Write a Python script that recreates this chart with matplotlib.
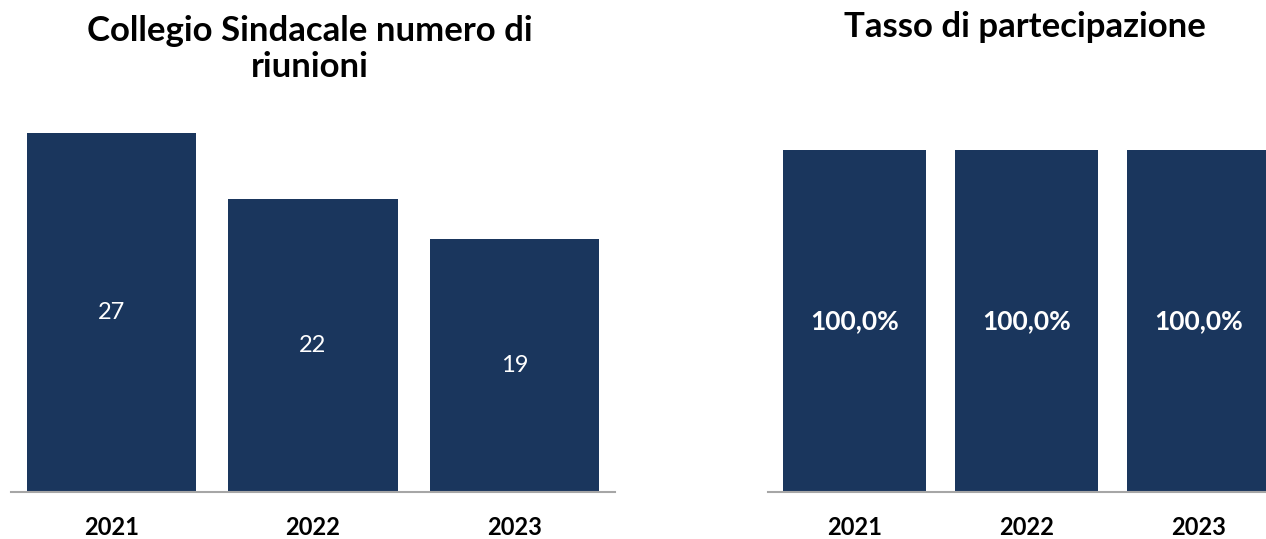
import matplotlib.pyplot as plt

years = ["2021", "2022", "2023"]
riunioni = [27, 22, 19]
partecipazione = [1.0, 1.0, 1.0]
part_labels = ["100,0%", "100,0%", "100,0%"]

bar_color = "#1a365d"
W, H = 1266, 539
plt.rcParams['font.family'] = ['Lato', 'DejaVu Sans']

fig = plt.figure(figsize=(W / 100, H / 100), dpi=100)


def px_axes(left, top, right, bottom):
    return fig.add_axes([left / W, 1 - bottom / H, (right - left) / W, (bottom - top) / H])


def style(ax):
    for s in ["top", "right", "left"]:
        ax.spines[s].set_visible(False)
    ax.spines["bottom"].set_color("#a6a6a6")
    ax.spines["bottom"].set_linewidth(1.5)
    ax.set_yticks([])
    ax.tick_params(axis="x", length=0, pad=24)
    for lab in ax.get_xticklabels():
        lab.set_fontweight("bold")
        lab.set_fontsize(17)
        lab.set_verticalalignment("center_baseline")


# left panel
ax1 = px_axes(11, 133, 615, 492)
x = range(len(years))
ax1.bar(x, riunioni, width=0.84, color=bar_color)
ax1.set_xlim(-0.5, 2.5)
ax1.set_ylim(0, 27)
ax1.set_xticks(list(x), years)
style(ax1)
for i, v in enumerate(riunioni):
    ax1.text(i, v / 2, str(v), ha="center", va="center", color="white", fontsize=17)
fig.text(310 / W, 1 - 41 / H, "Collegio Sindacale numero di", ha="center",
         va="baseline", fontsize=25, fontweight="bold")
fig.text(310 / W, 1 - 77 / H, "riunioni", ha="center",
         va="baseline", fontsize=25, fontweight="bold")

# right panel
ax2 = px_axes(768.5, 150, 1284.5, 492)
ax2.bar(x, partecipazione, width=0.83, color=bar_color)
ax2.set_xlim(-0.5, 2.5)
ax2.set_ylim(0, 1)
ax2.set_xticks(list(x), years)
style(ax2)
for i, v in enumerate(partecipazione):
    ax2.text(i, v / 2, part_labels[i], ha="center", va="center", color="white",
             fontsize=19, fontweight="bold")
fig.text(1025 / W, 1 - 37 / H, "Tasso di partecipazione", ha="center", va="baseline",
         fontsize=25, fontweight="bold")

fig.savefig("out.png", dpi=100)
